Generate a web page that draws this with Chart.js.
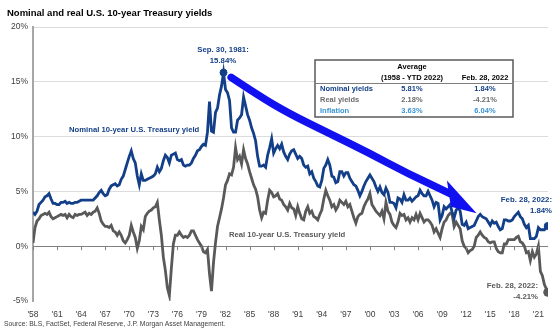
<!DOCTYPE html>
<html lang="en">
<head>
<meta charset="UTF-8">
<title>Nominal and real U.S. 10-year Treasury yields</title>
<style>
    html, body { margin: 0; padding: 0; background: #fff; }
    .wrap { position: relative; width: 558px; height: 330px; }
</style>
<script src="https://cdn.jsdelivr.net/npm/chart.js"></script>
</head>
<body>
<div class="wrap"><canvas id="yieldChart" width="558" height="330"></canvas></div>
<script>
// quarterly readings, 1958 Q1 .. 2022 Q1
const startYear = 1958;
const nominalYields = [
    3.1, 2.9, 3.2, 3.8,   4.0, 4.2, 4.5, 4.6,   4.8, 4.3, 3.9, 3.9,   3.8, 3.8, 4.0, 4.0,
    4.1, 3.9, 4.0, 3.9,   3.9, 4.0, 4.0, 4.1,   4.2, 4.2, 4.2, 4.2,   4.2, 4.2, 4.2, 4.4,
    4.6, 4.9, 5.1, 4.8,   4.6, 4.7, 5.2, 5.5,   5.6, 5.7, 5.5, 5.6,   6.1, 6.4, 7.0, 7.6,
    8.2, 8.7, 8.0, 7.6,   6.4, 5.6, 6.6, 6.0,   6.0, 6.1, 6.2, 6.3,   6.4, 6.6, 7.2, 6.8,
    7.1, 7.8, 8.3, 8.1,   7.6, 8.3, 8.4, 8.5,   7.9, 7.8, 7.9, 7.4,   7.3, 7.4, 7.4, 7.6,
    8.0, 8.3, 8.7, 8.8,   9.1, 9.3, 9.2, 10.4,  13.2, 10.5, 10.4, 12.2, 12.6, 13.8, 14.6, 15.84,
    14.3, 14.0, 13.3, 10.8, 10.4, 10.4, 11.5, 11.7, 12.0, 13.6, 12.8, 12.0, 11.5, 10.8, 10.3, 9.6,
    8.2, 7.3, 7.3, 7.4,   7.2, 8.3, 9.0, 9.8,   8.5, 8.9, 9.2, 8.9,   9.3, 8.6, 8.2, 7.9,
    8.4, 8.7, 8.8, 8.4,   8.0, 8.2, 8.0, 7.4,   7.2, 7.3, 6.6, 6.8,   6.2, 5.9, 5.5, 5.4,
    6.0, 7.1, 7.4, 7.9,   7.4, 6.4, 6.3, 5.8,   5.9, 6.8, 6.8, 6.4,   6.7, 6.7, 6.2, 5.9,
    5.6, 5.5, 5.1, 4.6,   5.0, 5.5, 5.9, 6.2,   6.5, 6.2, 5.9, 5.4,   5.0, 5.4, 4.9, 4.7,
    5.3, 4.9, 4.0, 4.0,   3.9, 3.5, 4.4, 4.3,   4.0, 4.7, 4.2, 4.2,   4.4, 4.1, 4.3, 4.5,
    4.6, 5.1, 4.8, 4.6,   4.6, 5.0, 4.6, 4.2,   3.6, 4.0, 3.9, 2.4,   2.8, 3.6, 3.4, 3.6,
    3.8, 3.1, 2.6, 3.3,   3.5, 3.2, 2.0, 1.9,   2.2, 1.6, 1.7, 1.8,   1.9, 2.3, 2.7, 2.9,
    2.7, 2.6, 2.5, 2.2,   1.9, 2.3, 2.1, 2.2,   1.8, 1.5, 1.6, 2.4,   2.4, 2.3, 2.3, 2.4,
    2.7, 2.9, 3.1, 2.7,   2.5, 2.0, 1.7, 1.9,   0.7, 0.7, 0.7, 0.9,   1.7, 1.5, 1.5, 1.5,
    1.8
];
const realYields = [
    0.3, 1.7, 2.3, 2.5,   2.8, 2.9, 3.0, 2.9,   3.1, 2.7, 2.5, 2.6,   2.7, 2.8, 2.9, 2.8,
    2.9, 2.6, 2.9, 2.7,   2.6, 2.9, 2.8, 2.9,   2.9, 3.0, 3.1, 2.8,   3.0, 2.9, 3.1, 3.2,
    3.5, 3.0, 2.3, 2.0,   1.8, 1.8, 1.7, 1.9,   1.4, 1.3, 1.0, 1.3,   1.0, 0.5, 0.3, 0.6,
    1.0, 1.9, 1.3, 0.8,   -0.2, 0.5, 1.8, 1.5,  2.7, 3.0, 3.2, 3.3,   3.5, 3.6, 4.0, 2.4,
    1.0, -1.0, -2.2, -3.8, -4.5, -2.0, 0.2, 1.0, 1.0, 1.3, 1.0, 0.8,  0.9, 0.8, 1.0, 1.4,
    1.4, 1.0, 0.6, 0.3,   0.0, -0.5, -0.6, -0.3, -2.5, -4.1, -1.5, 0.3, 1.8, 2.6, 3.4, 4.4,
    5.6, 6.0, 6.6, 6.5,   7.2, 9.0, 7.9, 8.2,   7.5, 8.8, 8.0, 7.5,   6.8, 6.2, 5.6, 5.2,
    4.5, 3.3, 2.6, 3.1,   3.0, 4.2, 5.1, 4.9,   4.5, 4.6, 4.8, 4.3,   4.2, 3.8, 3.6, 3.3,
    3.9, 3.5, 3.4, 2.8,   3.6, 3.0, 2.5, 2.4,   3.2, 3.6, 3.0, 3.2,   2.7, 2.6, 2.4, 2.9,
    3.3, 4.3, 5.1, 4.6,   4.2, 3.6, 3.8, 3.3,   3.6, 4.2, 4.0, 3.8,   4.1, 3.6, 3.8, 3.2,
    2.6, 2.1, 2.7, 2.9,   3.0, 3.6, 4.0, 4.3,   4.8, 3.8, 3.5, 3.2,   3.0, 2.8, 3.2, 2.5,
    4.0, 3.2, 2.9, 2.2,   1.9, 1.7, 2.2, 3.0,   2.8, 2.9, 2.4, 2.6,   2.2, 2.6, 2.4, 2.9,
    2.4, 3.0, 2.6, 2.2,   2.4, 2.4, 2.2, 1.9,   1.3, 1.6, 1.2, 0.8,   1.6, 2.2, 2.4, 2.8,
    3.0, 2.9, 1.8, 2.2,   1.9, 1.6, 0.5, 0.0,   -0.2, -0.6, -0.4, -0.3, 0.0, 0.8, 1.0, 1.3,
    1.0, 0.8, 0.7, 0.4,   0.3, 0.4, 0.4, -0.2,  -0.5, -0.6, -0.6, 0.2, 0.2, 0.6, 0.6, 0.6,
    0.6, 0.8, 0.9, 0.4,   0.3, 0.0, -0.6, -0.5, -1.3, -0.5, -1.0, -0.7, 0.0, -2.3, -2.7, -3.5,
    -3.9
];

// highlighted points
const peakDate = 1981.75;      // Sep. 30, 1981
const peakNominal = 15.84;
const lastDate = 2022.16;      // Feb. 28, 2022
const lastNominal = 1.84;
const lastReal = -4.21;

const tickYears = [1958, 1961, 1964, 1967, 1970, 1973, 1976, 1979, 1982, 1985, 1988,
                   1991, 1994, 1997, 2000, 2003, 2006, 2009, 2012, 2015, 2018, 2021];
const yTicks = [-5, 0, 5, 10, 15, 20];

// summary table
const tableRows = ['Nominal yields', 'Real yields', 'Inflation'];
const tableAverage = ['5.81%', '2.18%', '3.63%'];
const tableLatest = ['1.84%', '-4.21%', '6.04%'];

// trend arrow, in (year, %) units
const arrowYears = [1982.7, 1986.2, 1989.9, 1994.9, 1999.9, 2004.8, 2010.0];
const arrowValues = [15.4, 13.7, 12.1, 10.3, 8.5, 6.6, 4.8];
const arrowHeadYears = [2009.6, 2013.3, 2010.1];
const arrowHeadValues = [6.0, 3.0, 3.6];

const NAVY = '#133f88';
const GREY = '#595959';
const LIGHT_BLUE = '#3a93d6';
const FONT = "Arial, 'Liberation Sans', sans-serif";

function toPoints(values) {
    return values.map((v, i) => ({ x: startYear + i / 4, y: v }));
}

const nominalPoints = toPoints(nominalYields);
nominalPoints.push({ x: lastDate, y: lastNominal });
const realPoints = toPoints(realYields);
realPoints.push({ x: lastDate, y: lastReal });

const overlay = {
    id: 'overlay',
    afterDatasetsDraw(chart) {
        const ctx = chart.ctx;
        const xs = chart.scales.x, ys = chart.scales.y;

        // x tick marks hanging from the zero line
        const y0 = ys.getPixelForValue(0);
        ctx.save();
        ctx.strokeStyle = '#808080';
        ctx.lineWidth = 1;
        ctx.beginPath();
        tickYears.forEach(t => {
            const px = Math.round(xs.getPixelForValue(t)) + 0.5;
            ctx.moveTo(px, y0);
            ctx.lineTo(px, y0 + 4);
        });
        ctx.stroke();
        ctx.restore();

        // trend arrow
        const pts = arrowYears.map((yr, i) => [xs.getPixelForValue(yr), ys.getPixelForValue(arrowValues[i])]);
        ctx.save();
        ctx.strokeStyle = '#1010f0';
        ctx.fillStyle = '#1010f0';
        ctx.lineWidth = 7.5;
        ctx.lineCap = 'round';
        ctx.lineJoin = 'round';
        ctx.beginPath();
        ctx.moveTo(pts[0][0], pts[0][1]);
        for (let i = 1; i < pts.length - 1; i++) {
            const mx = (pts[i][0] + pts[i + 1][0]) / 2;
            const my = (pts[i][1] + pts[i + 1][1]) / 2;
            ctx.quadraticCurveTo(pts[i][0], pts[i][1], mx, my);
        }
        ctx.lineTo(pts[pts.length - 1][0], pts[pts.length - 1][1]);
        ctx.stroke();
        ctx.beginPath();
        arrowHeadYears.forEach((yr, i) => {
            const px = xs.getPixelForValue(yr), py = ys.getPixelForValue(arrowHeadValues[i]);
            if (i === 0) ctx.moveTo(px, py); else ctx.lineTo(px, py);
        });
        ctx.closePath();
        ctx.fill();
        ctx.restore();
    },
    afterDraw(chart) {
        const ctx = chart.ctx;
        ctx.save();
        ctx.textBaseline = 'middle';

        // title and source
        ctx.fillStyle = '#000';
        ctx.textAlign = 'left';
        ctx.font = 'bold 9.5px ' + FONT;
        ctx.fillText('Nominal and real U.S. 10-year Treasury yields', 7, 13);
        ctx.fillStyle = '#404040';
        ctx.font = '6.8px ' + FONT;
        ctx.fillText('Source: BLS, FactSet, Federal Reserve, J.P. Morgan Asset Management.', 4, 324);

        // series labels
        ctx.font = 'bold 7.7px ' + FONT;
        ctx.fillStyle = NAVY;
        ctx.fillText('Nominal 10-year U.S. Treasury yield', 69, 130);
        ctx.fillStyle = GREY;
        ctx.fillText('Real 10-year U.S. Treasury yield', 229, 235);

        // callouts
        ctx.font = 'bold 7.8px ' + FONT;
        ctx.textAlign = 'center';
        ctx.fillStyle = NAVY;
        ctx.fillText('Sep. 30, 1981:', 223, 50);
        ctx.fillText('15.84%', 223, 61);
        ctx.textAlign = 'right';
        ctx.fillText('Feb. 28, 2022:', 552, 200);
        ctx.fillText('1.84%', 552, 211);
        ctx.fillStyle = GREY;
        ctx.fillText('Feb. 28, 2022:', 538, 286);
        ctx.fillText('-4.21%', 538, 297);

        // table
        const bx = 315, by = 60, bw = 198, bh = 57;
        ctx.fillStyle = '#fff';
        ctx.fillRect(bx, by, bw, bh);
        ctx.strokeStyle = '#595959';
        ctx.lineWidth = 1.5;
        ctx.strokeRect(bx, by, bw, bh);
        ctx.beginPath();
        ctx.lineWidth = 1;
        ctx.strokeStyle = '#7f7f7f';
        ctx.moveTo(bx, 83.5);
        ctx.lineTo(bx + bw, 83.5);
        ctx.stroke();

        ctx.fillStyle = '#000';
        ctx.textAlign = 'center';
        ctx.font = 'bold 7.5px ' + FONT;
        ctx.fillText('Average', 412, 67);
        ctx.fillText('(1958 - YTD 2022)', 412, 78);
        ctx.fillText('Feb. 28, 2022', 485, 78);

        const rowColors = [NAVY, '#6b6b6b', LIGHT_BLUE];
        tableRows.forEach((name, i) => {
            const ry = 89 + i * 11;
            ctx.fillStyle = rowColors[i];
            ctx.textAlign = 'left';
            ctx.fillText(name, 320, ry);
            ctx.textAlign = 'center';
            ctx.fillText(tableAverage[i], 412, ry);
            ctx.fillText(tableLatest[i], 485, ry);
        });
        ctx.restore();
    }
};

const chart = new Chart(document.getElementById('yieldChart'), {
    type: 'line',
    data: {
        datasets: [
            {
                label: 'Nominal 10-year U.S. Treasury yield',
                data: nominalPoints,
                borderColor: NAVY,
                borderWidth: 2.8,
                pointRadius: 0,
                tension: 0
            },
            {
                label: 'Real 10-year U.S. Treasury yield',
                data: realPoints,
                borderColor: GREY,
                borderWidth: 2.8,
                pointRadius: 0,
                tension: 0
            },
            {
                label: 'nominal highlights',
                data: [{ x: peakDate, y: peakNominal }, { x: lastDate, y: lastNominal }],
                showLine: false,
                pointRadius: 3.5,
                pointBackgroundColor: NAVY,
                pointBorderColor: NAVY
            },
            {
                label: 'real highlight',
                data: [{ x: lastDate, y: lastReal }],
                showLine: false,
                pointRadius: 4,
                pointBackgroundColor: GREY,
                pointBorderColor: GREY
            }
        ]
    },
    options: {
        responsive: false,
        animation: false,
        layout: { padding: { top: 27, right: 10, bottom: 12, left: 0 } },
        plugins: {
            legend: { display: false },
            tooltip: { enabled: false }
        },
        scales: {
            x: {
                type: 'linear',
                min: 1958,
                max: 2022.2,
                afterBuildTicks: s => { s.ticks = tickYears.map(v => ({ value: v })); },
                afterFit: s => { s.height = 17; },
                grid: { display: false },
                border: { display: false },
                ticks: {
                    autoSkip: false,
                    maxRotation: 0,
                    padding: 1,
                    color: '#404040',
                    font: { size: 8.5, family: FONT },
                    callback: v => "'" + String(v).slice(2)
                }
            },
            y: {
                min: -5,
                max: 20,
                afterBuildTicks: s => { s.ticks = yTicks.map(v => ({ value: v })); },
                afterFit: s => { s.width = 33; },
                grid: {
                    drawTicks: false,
                    lineWidth: 1,
                    color: c => c.tick.value === 0 ? '#808080' : (c.tick.value === -5 ? 'rgba(0,0,0,0)' : '#dcdcdc')
                },
                border: { color: '#a6a6a6', width: 2 },
                ticks: {
                    padding: 5,
                    color: '#404040',
                    font: { size: 8.5, family: FONT },
                    callback: v => v + '%'
                }
            }
        }
    },
    plugins: [overlay]
});
</script>
</body>
</html>
